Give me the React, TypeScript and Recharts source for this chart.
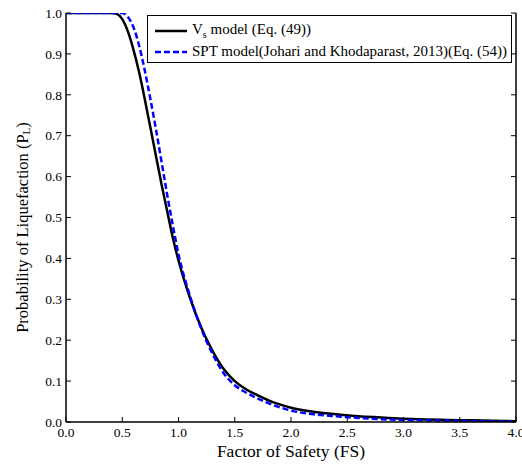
import React from 'react';
import { LineChart, Line, XAxis, YAxis } from 'recharts';

// Factor of safety grid and the two probability curves
const fsValues = [
  0, 0.1, 0.2, 0.3, 0.4, 0.45, 0.5, 0.55, 0.6, 0.65, 0.7, 0.75, 0.8, 0.85, 0.9, 0.95,
  1.0, 1.1, 1.2, 1.3, 1.4, 1.5, 1.6, 1.7, 1.8, 1.9, 2.0, 2.2, 2.4, 2.6, 2.8, 3.0,
  3.2, 3.4, 3.6, 3.8, 4.0,
];
const vsModel = [
  1, 1, 1, 1, 1, 0.998, 0.985, 0.955, 0.91, 0.855, 0.79, 0.72, 0.65, 0.58, 0.515, 0.45,
  0.395, 0.305, 0.232, 0.175, 0.13, 0.1, 0.08, 0.066, 0.053, 0.043, 0.035, 0.025, 0.019, 0.014, 0.011, 0.008,
  0.006, 0.005, 0.004, 0.003, 0.002,
];
const sptModel = [
  1, 1, 1, 1, 1, 1, 1, 0.99, 0.965, 0.92, 0.86, 0.79, 0.715, 0.635, 0.555, 0.48,
  0.41, 0.31, 0.23, 0.168, 0.12, 0.09, 0.072, 0.058, 0.046, 0.036, 0.028, 0.019, 0.014, 0.01, 0.007, 0.005,
  0.004, 0.003, 0.002, 0.0015, 0.001,
];
const xTicks = [0, 0.5, 1, 1.5, 2, 2.5, 3, 3.5, 4];
const yTicks = [0, 0.1, 0.2, 0.3, 0.4, 0.5, 0.6, 0.7, 0.8, 0.9, 1];

const data = fsValues.map((fs, i) => ({ fs, vs: vsModel[i], spt: sptModel[i] }));

const FONT = '"Liberation Serif", "Times New Roman", serif';
const TICK_LEN = 5;

const BottomTick = (props: any) => {
  const { x, y, payload } = props;
  return (
    <g>
      <line x1={x} y1={y} x2={x} y2={y - TICK_LEN} stroke="#000" strokeWidth={1} />
      <text x={x} y={y + 15} textAnchor="middle" fontSize={13.5} fontFamily={FONT} fill="#000">
        {Number(payload.value).toFixed(1)}
      </text>
    </g>
  );
};

const LeftTick = (props: any) => {
  const { x, y, payload } = props;
  return (
    <g>
      <line x1={x} y1={y} x2={x + TICK_LEN} y2={y} stroke="#000" strokeWidth={1} />
      <text x={x - 4} y={y} dy="0.35em" textAnchor="end" fontSize={13.5} fontFamily={FONT} fill="#000">
        {Number(payload.value).toFixed(1)}
      </text>
    </g>
  );
};

const TopTick = (props: any) => {
  const { x, y } = props;
  return <line x1={x} y1={y} x2={x} y2={y + TICK_LEN} stroke="#000" strokeWidth={1} />;
};

const RightTick = (props: any) => {
  const { x, y } = props;
  return <line x1={x} y1={y} x2={x - TICK_LEN} y2={y} stroke="#000" strokeWidth={1} />;
};

const YLabel = (props: any) => {
  const { viewBox } = props;
  const cx = 22;
  const cy = viewBox.y + viewBox.height / 2 + 10;
  return (
    <text
      x={cx}
      y={cy}
      transform={`rotate(-90 ${cx} ${cy})`}
      textAnchor="middle"
      dominantBaseline="central"
      fontSize={16.5}
      fontFamily={FONT}
      fill="#000"
    >
      Probability of Liquefaction (P
      <tspan fontSize={11} dy={4}>L</tspan>
      <tspan dy={-4}>)</tspan>
    </text>
  );
};

export default function App() {
  return (
    <div style={{ position: 'absolute', left: 0, top: 0, width: 522, height: 465, background: '#fff' }}>
      <LineChart width={522} height={465} data={data} margin={{ top: 13, right: 0, left: 0, bottom: 0 }}>
        <XAxis
          dataKey="fs"
          type="number"
          domain={[0, 4]}
          ticks={xTicks}
          allowDataOverflow
          height={43}
          tickSize={0}
          tickMargin={0}
          tickLine={false}
          axisLine={{ stroke: '#000', strokeWidth: 1.5 }}
          tick={<BottomTick />}
          label={{
            value: 'Factor of Safety (FS)',
            position: 'insideBottom',
            offset: 8,
            fontSize: 17.5,
            fontFamily: FONT,
            fill: '#000',
          }}
        />
        <XAxis
          xAxisId="top"
          orientation="top"
          dataKey="fs"
          type="number"
          domain={[0, 4]}
          ticks={xTicks}
          allowDataOverflow
          height={0}
          tickSize={0}
          tickMargin={0}
          tickLine={false}
          axisLine={{ stroke: '#000', strokeWidth: 1.5 }}
          tick={<TopTick />}
        />
        <YAxis
          type="number"
          domain={[0, 1]}
          ticks={yTicks}
          allowDataOverflow
          width={66}
          tickSize={0}
          tickMargin={0}
          tickLine={false}
          axisLine={{ stroke: '#000', strokeWidth: 1.5 }}
          tick={<LeftTick />}
          label={{ content: <YLabel /> }}
        />
        <YAxis
          yAxisId="right"
          orientation="right"
          type="number"
          domain={[0, 1]}
          ticks={yTicks}
          allowDataOverflow
          width={6}
          tickSize={0}
          tickMargin={0}
          tickLine={false}
          axisLine={{ stroke: '#000', strokeWidth: 1.5 }}
          tick={<RightTick />}
        />
        <Line
          type="monotone"
          dataKey="vs"
          stroke="#000"
          strokeWidth={2.5}
          dot={false}
          isAnimationActive={false}
        />
        <Line
          type="monotone"
          dataKey="spt"
          stroke="#0000ff"
          strokeWidth={2.5}
          strokeDasharray="6 3"
          dot={false}
          isAnimationActive={false}
        />
      </LineChart>
      <div
        style={{
          position: 'absolute',
          left: 147,
          top: 15,
          width: 363,
          height: 46,
          border: '1.5px solid #000',
          background: '#fff',
          fontFamily: FONT,
          fontSize: 15,
          color: '#000',
        }}
      >
        <div style={{ position: 'absolute', left: 7, top: 5, display: 'flex', alignItems: 'center', whiteSpace: 'nowrap' }}>
          <svg width={32} height={4} style={{ marginRight: 5 }}>
            <line x1={0} y1={2} x2={32} y2={2} stroke="#000" strokeWidth={2.5} />
          </svg>
          <span>
            V<sub style={{ fontSize: 10 }}>s</sub> model (Eq. (49))
          </span>
        </div>
        <div style={{ position: 'absolute', left: 7, top: 27, display: 'flex', alignItems: 'center', whiteSpace: 'nowrap' }}>
          <svg width={32} height={4} style={{ marginRight: 5 }}>
            <line x1={0} y1={2} x2={32} y2={2} stroke="#0000ff" strokeWidth={2.5} strokeDasharray="6 3" />
          </svg>
          <span>SPT model(Johari and Khodaparast, 2013)(Eq. (54))</span>
        </div>
      </div>
    </div>
  );
}
